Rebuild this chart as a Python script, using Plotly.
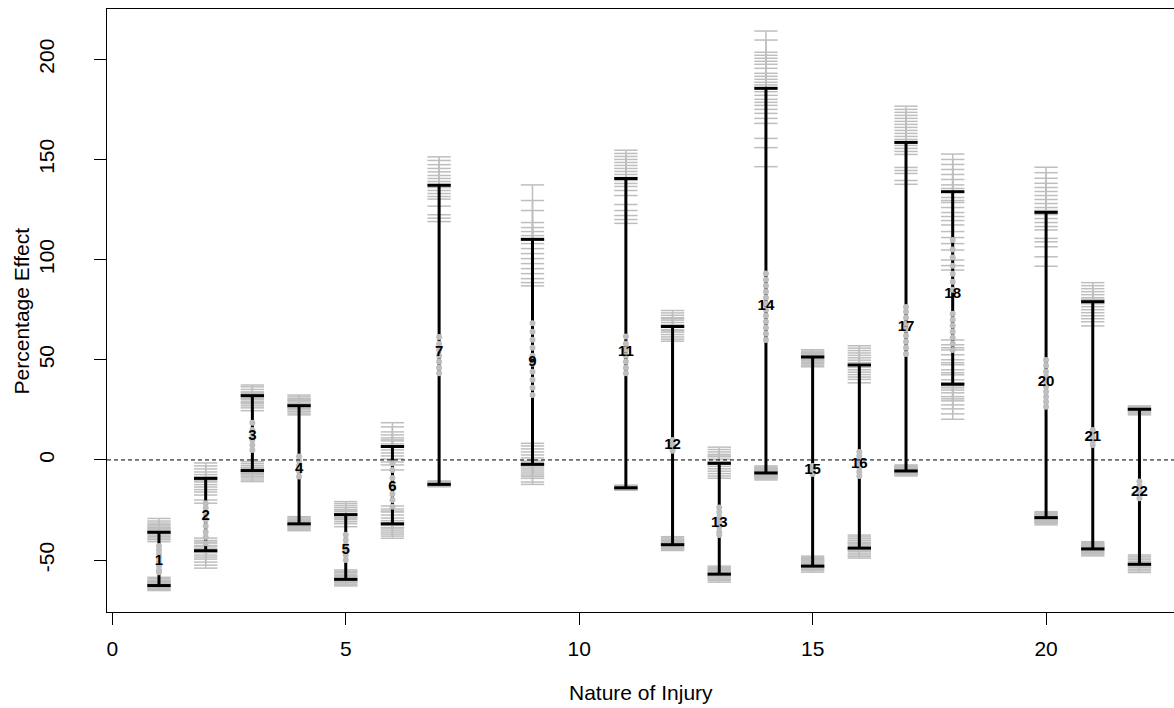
import plotly.graph_objects as go

# ---------------- data ----------------
categories = [1, 2, 3, 4, 5, 6, 7, 9, 11, 12, 13, 14, 15, 16, 17, 18, 20, 21, 22]
estimate = [-50.7, -28.3, 12.0, -4.7, -44.9, -13.8, 53.7, 48.7, 53.7, 7.2, -31.5,
            76.5, -5.0, -2.0, 66.2, 82.7, 38.6, 11.3, -16.3]
ci_lower = [-62.7, -45.3, -5.3, -31.9, -59.6, -31.9, -12.2, -2.2, -13.9, -42.3, -57.0,
            -6.5, -53.0, -44.0, -5.5, 37.8, -28.8, -44.4, -52.1]
ci_upper = [-36.1, -9.2, 32.1, 27.1, -27.3, 6.7, 137.1, 110.1, 140.5, 66.6, -1.7,
            185.5, 51.4, 47.4, 158.5, 133.9, 123.6, 79.0, 25.3]

boot_upper = [
    [-29.2, -30.5, -31.5, -32.3, -33.0, -33.8, -34.5, -35.2, -36.0, -36.8, -37.5, -38.3, -39.0, -39.8, -40.8, -34.0],
    [-1.5, -3.0, -4.5, -6.0, -7.3, -8.5, -9.8, -11.0, -12.3, -13.5, -14.8, -16.0, -17.5, -20.0, -21.6, -10.5],
    [37.4, 36.5, 35.2, 34.0, 33.0, 32.0, 31.0, 30.0, 29.0, 28.0, 27.0, 26.0, 24.6, 33.5, 30.5, 28.5],
    [32.4, 31.5, 30.6, 29.8, 29.0, 28.2, 27.4, 26.6, 25.8, 25.0, 24.2, 23.4, 22.5, 28.0, 26.0, 30.0],
    [-20.8, -21.8, -22.8, -23.8, -24.8, -25.8, -26.8, -27.8, -28.8, -29.8, -30.8, -31.8, -33.3, -25.0, -27.0, -29.0],
    [18.6, 16.5, 14.0, 12.5, 11.0, 9.5, 8.0, 6.5, 5.0, 3.5, 2.0, 0.5, -1.0, -2.5, -5.0, 10.0],
    [151.3, 149.5, 147.4, 145.5, 143.8, 142.0, 140.5, 139.0, 137.5, 136.0, 134.5, 133.0, 131.5, 130.2, 126.7, 122.4, 120.7, 119.0],
    [137.3, 129.5, 124.5, 118.5, 116.0, 114.0, 112.0, 110.5, 108.0, 105.5, 103.0, 100.5, 98.0, 95.5, 93.0, 90.5, 88.5, 86.9],
    [154.6, 153.0, 151.5, 150.0, 148.5, 147.0, 145.5, 144.0, 142.5, 141.0, 139.5, 138.0, 136.5, 134.5, 132.0, 127.5, 124.5, 122.0, 120.0, 118.1],
    [74.6, 73.4, 72.2, 71.0, 69.8, 68.6, 67.4, 66.2, 65.0, 63.8, 62.6, 61.4, 60.3, 59.3, 70.5, 64.5],
    [6.4, 5.2, 4.0, 2.8, 1.6, 0.4, -0.8, -2.0, -3.2, -4.4, -5.6, -6.8, -8.0, -9.1, -1.0, 2.0],
    [214.1, 209.6, 203.5, 202.0, 200.5, 199.0, 197.5, 195.5, 193.0, 191.5, 190.0, 188.5, 187.2, 183.8, 182.0, 180.0,
     178.5, 177.0, 175.0, 173.0, 170.5, 168.0, 160.5, 155.9, 146.4],
    [55.0, 54.3, 53.6, 52.9, 52.2, 51.5, 50.8, 50.1, 49.4, 48.7, 48.0, 47.3, 46.5, 51.0, 53.0, 49.8],
    [57.0, 55.8, 54.6, 53.4, 52.2, 51.0, 49.8, 48.6, 47.4, 46.2, 45.0, 43.8, 42.6, 41.4, 40.2, 38.5],
    [176.6, 175.0, 173.5, 172.0, 170.5, 169.0, 167.5, 166.0, 164.5, 163.0, 161.5, 160.0, 157.0, 155.5, 154.0, 152.5,
     146.0, 144.5, 143.0, 139.5, 137.6],
    [152.7, 150.0, 147.5, 145.0, 142.5, 140.0, 137.3, 133.9, 131.0, 128.5, 126.0, 123.5, 121.5, 117.3, 114.0, 111.0,
     108.0, 104.8, 99.8, 97.0, 94.8, 135.5, 129.5, 119.5],
    [146.1, 143.4, 140.6, 138.1, 136.0, 134.0, 132.0, 130.0, 128.0, 126.0, 124.5, 122.5, 120.5, 118.5, 116.5, 114.8,
     110.6, 108.9, 106.4, 101.4, 96.7],
    [88.5, 87.0, 85.5, 84.0, 82.5, 81.0, 79.5, 78.0, 76.5, 75.0, 73.5, 72.0, 70.5, 69.0, 66.9, 80.2],
    [27.0, 26.5, 26.0, 25.5, 25.0, 24.5, 24.0, 23.5, 23.0, 22.5, 25.8, 24.8],
]
boot_lower = [
    [-58.6, -59.3, -60.0, -60.6, -61.2, -61.8, -62.3, -62.9, -63.4, -63.9, -64.4, -64.8, -65.2, -61.5, -60.3, -62.0],
    [-39.0, -40.2, -41.5, -42.7, -44.0, -45.2, -46.3, -47.5, -48.5, -49.5, -51.0, -52.5, -54.0, -43.0, -45.8, -41.0],
    [-0.8, -1.8, -2.8, -3.7, -4.5, -5.3, -6.0, -6.8, -7.5, -8.3, -9.0, -10.0, -10.8, -4.0, -5.8, -7.0],
    [-28.3, -28.9, -29.5, -30.1, -30.7, -31.3, -31.9, -32.5, -33.1, -33.7, -34.3, -34.8, -35.3, -30.0, -32.0, -33.0],
    [-54.9, -55.6, -56.3, -57.0, -57.7, -58.4, -59.1, -59.8, -60.5, -61.2, -61.9, -62.4, -62.9, -58.0, -59.5, -61.0],
    [-23.0, -24.5, -26.0, -27.5, -29.0, -30.3, -31.5, -32.7, -33.8, -35.0, -36.0, -37.0, -38.0, -39.1, -25.5, -34.0],
    [-10.5, -10.8, -11.1, -11.4, -11.7, -12.0, -12.2, -12.4, -12.6, -12.8, -13.0, -13.2, -13.4, -11.0, -11.5, -12.1, -12.5, -12.9],
    [8.3, 7.0, 5.5, 4.0, 2.5, 1.0, -0.5, -1.5, -2.5, -3.5, -4.5, -5.5, -6.5, -7.5, -8.3, -9.2, -11.0, -12.2],
    [-12.6, -12.8, -13.0, -13.2, -13.4, -13.6, -13.8, -14.0, -14.2, -14.4, -14.6, -14.8, -15.0, -15.1, -13.5, -14.1, -14.5, -13.1, -13.9, -14.3],
    [-38.3, -38.9, -39.5, -40.1, -40.7, -41.3, -41.9, -42.5, -43.1, -43.7, -44.3, -44.8, -45.2, -40.0, -42.0, -44.0],
    [-53.0, -53.6, -54.2, -54.8, -55.4, -56.0, -56.6, -57.2, -57.8, -58.4, -59.0, -59.6, -60.2, -61.0, -55.0, -58.0],
    [-3.0, -3.5, -4.0, -4.5, -5.0, -5.5, -6.0, -6.5, -7.0, -7.5, -8.0, -8.5, -9.0, -9.5, -10.0, -4.2,
     -5.2, -6.2, -7.2, -8.2, -6.8, -5.8, -4.8, -7.8, -8.8],
    [-48.0, -48.6, -49.2, -49.8, -50.4, -51.0, -51.6, -52.2, -52.8, -53.4, -54.0, -54.6, -55.2, -56.0, -50.5, -53.0],
    [-37.5, -38.4, -39.3, -40.2, -41.1, -42.0, -42.9, -43.8, -44.7, -45.6, -46.5, -47.4, -48.2, -49.0, -41.5, -45.0],
    [-2.5, -3.0, -3.5, -4.0, -4.5, -5.0, -5.5, -6.0, -6.5, -7.0, -7.5, -8.0, -3.2, -4.2, -5.2, -6.2,
     -7.2, -4.8, -5.8, -6.8, -3.8],
    [59.9, 57.5, 54.9, 52.5, 50.0, 47.5, 45.0, 42.5, 40.0, 37.0, 34.9, 31.6, 29.5, 27.5, 25.5, 23.0,
     20.3, 56.0, 48.5, 43.5, 38.5, 36.0, 33.5, 30.5],
    [-25.8, -26.3, -26.8, -27.3, -27.8, -28.3, -28.8, -29.3, -29.8, -30.3, -30.8, -31.3, -31.8, -32.4, -27.0, -28.0,
     -29.0, -30.0, -31.0, -26.5, -29.5],
    [-40.8, -41.3, -41.8, -42.3, -42.8, -43.3, -43.8, -44.3, -44.8, -45.3, -45.8, -46.3, -46.8, -47.4, -47.9, -43.0],
    [-47.4, -48.2, -49.0, -49.8, -50.6, -51.4, -52.2, -53.0, -53.8, -54.6, -55.4, -56.2],
]
boot_estimate = [
    [-43, -45, -47, -49, -51, -53, -55, -56],
    [-21.6, -24, -27, -30, -33, -36, -38.5, -41.6],
    [5, 7.5, 10, 12.5, 15, 18.6],
    [1.7, -0.5, -3, -5.5, -8.3],
    [-37.4, -40, -42.5, -45, -47.5, -49.9],
    [-1.7, -5, -9, -13, -17, -20, -23.3],
    [43.3, 46, 49, 52, 55, 58, 61.4],
    [32.4, 36, 40, 44, 48, 52, 56, 60, 64, 68.2],
    [43.3, 46, 49, 52, 55, 58, 61.6],
    [4.6, 6, 7.5, 9, 10],
    [-23.7, -26, -28.5, -31, -33.5, -36, -37.5],
    [59.9, 63, 66, 69, 72, 75, 78, 81, 84, 87, 90, 93.1],
    [-3, -4, -5, -6, -7],
    [-8, -6, -4, -2, 0, 2, 4],
    [52.9, 56, 59, 62, 65, 68, 71, 74, 76.3],
    [54.9, 58, 61, 64, 67, 70, 73, 85, 89, 93, 97, 101, 105, 109.8],
    [26.6, 29, 31.5, 34, 36.5, 39, 41.5, 44, 47, 49.9],
    [7.5, 9.5, 11.5, 13.5, 15],
    [-10.8, -13, -15, -17, -19.1],
]

x_ticks = [0, 5, 10, 15, 20]
y_ticks = [-50, 0, 50, 100, 150, 200]
x_title = "Nature of Injury"
y_title = "Percentage Effect"

# ---------------- styling ----------------
CAP = 0.25          # half width of the caps, in x units
GRAY = "#BEBEBE"
FONT = "Liberation Sans, Arial, Helvetica, sans-serif"
AXFONT = 21


def segments(xc, lows, highs):
    xs, ys = [], []
    for lo, hi in zip(lows, highs):
        xs += [xc, xc, None, xc - CAP, xc + CAP, None, xc - CAP, xc + CAP, None]
        ys += [lo, hi, None, hi, hi, None, lo, lo, None]
    return xs, ys


fig = go.Figure()

# gray bootstrap intervals
gx, gy = [], []
for c, lows, highs in zip(categories, boot_lower, boot_upper):
    xs, ys = segments(c, lows, highs)
    gx += xs
    gy += ys
fig.add_trace(go.Scatter(x=gx, y=gy, mode="lines",
                         line=dict(color=GRAY, width=1.5), hoverinfo="skip"))

# black confidence intervals
bx, by = [], []
for c, lo, hi in zip(categories, ci_lower, ci_upper):
    xs, ys = segments(c, [lo], [hi])
    bx += xs
    by += ys
fig.add_trace(go.Scatter(x=bx, y=by, mode="lines",
                         line=dict(color="black", width=3), hoverinfo="skip"))

# gray bootstrap point estimates
px_, py_ = [], []
for c, pts in zip(categories, boot_estimate):
    px_ += [c] * len(pts)
    py_ += pts
fig.add_trace(go.Scatter(x=px_, y=py_, mode="markers",
                         marker=dict(color=GRAY, size=6, symbol="circle",
                                     line=dict(width=0)),
                         hoverinfo="skip"))

# category labels at the point estimates
fig.add_trace(go.Scatter(x=categories, y=estimate, mode="text",
                         text=[str(c) for c in categories],
                         textposition="middle center",
                         textfont=dict(family=FONT, size=15, color="black", weight="bold"),
                         hoverinfo="skip"))

# zero reference line
fig.add_shape(type="line", xref="paper", x0=0, x1=1, yref="y", y0=0, y1=0,
              line=dict(color="black", width=1, dash="4px,3px"), layer="above")

# axis titles
fig.add_annotation(text=x_title, xref="paper", yref="paper", x=0.5,
                   y=-0.1327, xanchor="center", yanchor="middle", showarrow=False,
                   font=dict(family=FONT, size=AXFONT, color="black"))
fig.add_annotation(text=y_title, xref="paper", yref="paper", x=-0.0797, y=0.5,
                   xanchor="center", yanchor="middle", textangle=-90, showarrow=False,
                   font=dict(family=FONT, size=AXFONT, color="black"))

fig.update_layout(
    width=1174, height=708,
    margin=dict(l=107, r=0, t=9, b=96, autoexpand=False),
    paper_bgcolor="white", plot_bgcolor="white",
    showlegend=False,
    font=dict(family=FONT, size=AXFONT, color="black"),
)
fig.update_xaxes(
    range=[-0.1135, 22.74], tickvals=x_ticks, ticktext=[str(v) for v in x_ticks],
    showgrid=False, zeroline=False, automargin=False,
    showline=True, mirror=True, linecolor="black", linewidth=1.3,
    ticks="outside", ticklen=12, tickwidth=1.2, tickcolor="black",
    ticklabelstandoff=6, tickfont=dict(size=AXFONT),
)
fig.update_yaxes(
    range=[-75.9, 225.1], tickvals=y_ticks, ticktext=[str(v) for v in y_ticks],
    showgrid=False, zeroline=False, automargin=False,
    showline=True, mirror=False, linecolor="black", linewidth=1.3,
    ticks="outside", ticklen=12, tickwidth=1.2, tickcolor="black",
    tickangle=-90, ticklabelstandoff=31, tickfont=dict(size=AXFONT),
)

# the page body has a default 8px margin; remove it so the figure sits at the window origin
fig.write_html("out.html", config={"displayModeBar": False},
               post_script="document.body.style.margin='0';")
